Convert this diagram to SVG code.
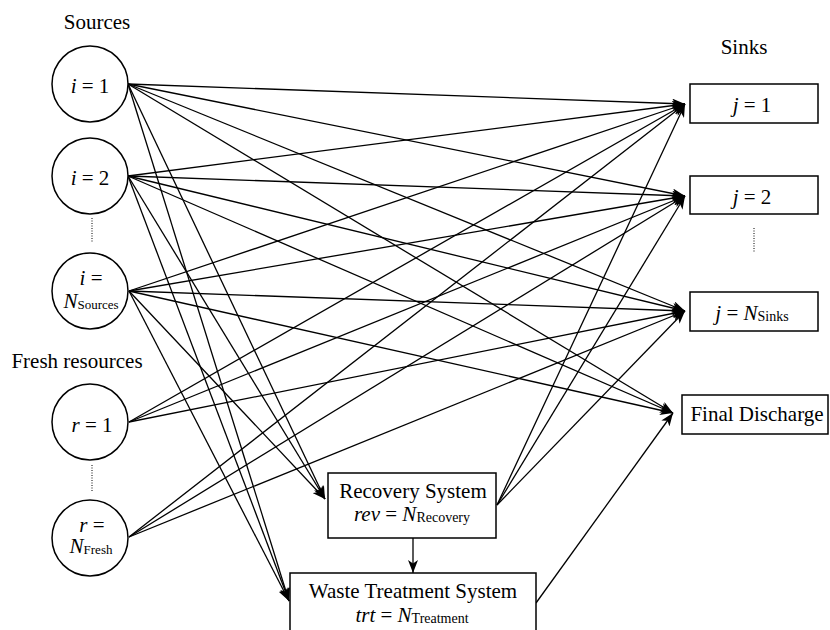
<svg xmlns="http://www.w3.org/2000/svg" width="830" height="630" viewBox="0 0 830 630" font-family="'Liberation Serif', 'Times New Roman', Times, serif">
<style>
  text { font-family: 'Liberation Serif', 'Times New Roman', Times, serif; fill: #000; }
  .lbl { font-size: 21px; }
  .sub { font-size: 13px; }
  .sub14 { font-size: 14px; }
  .it { font-style: italic; }
  .node { fill: #fff; stroke: #000; stroke-width: 1.5; }
  .dot { stroke: #000; stroke-width: 1; stroke-dasharray: 1 1.5; fill: none; }
  .edge { stroke: #000; stroke-width: 1.3; fill: none; marker-end: url(#arr); }
</style>
<defs>
  <marker id="arr" markerUnits="userSpaceOnUse" markerWidth="14" markerHeight="10" refX="13" refY="5" orient="auto">
    <path d="M0,0 L13,5 L0,10 L3.5,5 z" fill="#000"/>
  </marker>
</defs>
<rect width="830" height="630" fill="#fff"/>

<g id="headings">
  <text class="lbl" font-family="Liberation Serif" x="97" y="29" text-anchor="middle">Sources</text>
  <text class="lbl" font-family="Liberation Serif" x="77" y="368" text-anchor="middle">Fresh resources</text>
  <text class="lbl" font-family="Liberation Serif" x="744" y="54" text-anchor="middle">Sinks</text>
</g>

<g id="connectors">
  <line class="edge" x1="128" y1="84" x2="685" y2="104"/>
  <line class="edge" x1="128" y1="84" x2="685" y2="196"/>
  <line class="edge" x1="128" y1="84" x2="685" y2="311"/>
  <line class="edge" x1="128" y1="84" x2="673" y2="413"/>
  <line class="edge" x1="128" y1="84" x2="325" y2="499"/>
  <line class="edge" x1="128" y1="84" x2="289" y2="601"/>
  <line class="edge" x1="128" y1="176" x2="685" y2="104"/>
  <line class="edge" x1="128" y1="176" x2="685" y2="196"/>
  <line class="edge" x1="128" y1="176" x2="685" y2="311"/>
  <line class="edge" x1="128" y1="176" x2="673" y2="413"/>
  <line class="edge" x1="128" y1="176" x2="325" y2="499"/>
  <line class="edge" x1="128" y1="176" x2="289" y2="601"/>
  <line class="edge" x1="129" y1="291" x2="685" y2="104"/>
  <line class="edge" x1="129" y1="291" x2="685" y2="196"/>
  <line class="edge" x1="129" y1="291" x2="685" y2="311"/>
  <line class="edge" x1="129" y1="291" x2="673" y2="413"/>
  <line class="edge" x1="129" y1="291" x2="325" y2="499"/>
  <line class="edge" x1="129" y1="291" x2="289" y2="601"/>
  <line class="edge" x1="129" y1="422" x2="685" y2="104"/>
  <line class="edge" x1="129" y1="422" x2="685" y2="196"/>
  <line class="edge" x1="129" y1="422" x2="685" y2="311"/>
  <line class="edge" x1="129" y1="537" x2="685" y2="104"/>
  <line class="edge" x1="129" y1="537" x2="685" y2="196"/>
  <line class="edge" x1="129" y1="537" x2="685" y2="311"/>
  <line class="edge" x1="497" y1="505" x2="685" y2="104"/>
  <line class="edge" x1="497" y1="505" x2="685" y2="196"/>
  <line class="edge" x1="497" y1="505" x2="685" y2="311"/>
  <line class="edge" x1="413" y1="538" x2="413" y2="573"/>
  <line class="edge" x1="536" y1="603" x2="673" y2="413"/>
</g>

<g id="dots">
  <line class="dot" x1="92" y1="218" x2="92" y2="243"/>
  <line class="dot" x1="92" y1="465" x2="92" y2="491"/>
  <line class="dot" x1="754" y1="228" x2="754" y2="253"/>
</g>

<g id="src-i1">
  <circle class="node" cx="90" cy="84" r="38"/>
  <text class="lbl" font-family="Liberation Serif" x="90" y="93" text-anchor="middle"><tspan class="it">i</tspan> = 1</text>
</g>
<g id="src-i2">
  <circle class="node" cx="90" cy="176" r="38"/>
  <text class="lbl" font-family="Liberation Serif" x="90" y="185" text-anchor="middle"><tspan class="it">i</tspan> = 2</text>
</g>
<g id="src-iN">
  <circle class="node" cx="90" cy="291" r="38"/>
  <text class="lbl" font-family="Liberation Serif" x="91" y="285" text-anchor="middle"><tspan class="it">i</tspan> =</text>
  <text class="lbl" font-family="Liberation Serif" x="91" y="308" text-anchor="middle"><tspan class="it">N</tspan><tspan class="sub" dy="1">Sources</tspan></text>
</g>
<g id="fresh-r1">
  <circle class="node" cx="90" cy="422" r="38"/>
  <text class="lbl" font-family="Liberation Serif" x="92" y="432" text-anchor="middle"><tspan class="it">r</tspan> = 1</text>
</g>
<g id="fresh-rN">
  <circle class="node" cx="90" cy="538" r="38"/>
  <text class="lbl" font-family="Liberation Serif" x="92" y="532" text-anchor="middle"><tspan class="it">r</tspan> =</text>
  <text class="lbl" font-family="Liberation Serif" x="91" y="553" text-anchor="middle"><tspan class="it">N</tspan><tspan class="sub" dy="1">Fresh</tspan></text>
</g>

<g id="sink-j1">
  <rect class="node" x="690" y="84" width="128" height="39"/>
  <text class="lbl" font-family="Liberation Serif" x="752" y="112" text-anchor="middle"><tspan class="it">j</tspan> = 1</text>
</g>
<g id="sink-j2">
  <rect class="node" x="690" y="176" width="128" height="38"/>
  <text class="lbl" font-family="Liberation Serif" x="752" y="204" text-anchor="middle"><tspan class="it">j</tspan> = 2</text>
</g>
<g id="sink-jN">
  <rect class="node" x="690" y="292" width="128" height="39"/>
  <text class="lbl" font-family="Liberation Serif" x="752" y="320" text-anchor="middle"><tspan class="it">j</tspan> = <tspan class="it">N</tspan><tspan class="sub14" dy="1">Sinks</tspan></text>
</g>
<g id="final-discharge">
  <rect class="node" x="682" y="395" width="146" height="39"/>
  <text class="lbl" font-family="Liberation Serif" x="757" y="421" text-anchor="middle">Final Discharge</text>
</g>
<g id="recovery">
  <rect class="node" x="328" y="473" width="168" height="65"/>
  <text class="lbl" font-family="Liberation Serif" x="413" y="498" text-anchor="middle">Recovery System</text>
  <text class="lbl" font-family="Liberation Serif" x="412" y="521" text-anchor="middle"><tspan class="it">rev</tspan> = <tspan class="it">N</tspan><tspan class="sub14" dy="1">Recovery</tspan></text>
</g>
<g id="waste-treatment">
  <rect class="node" x="290" y="573" width="246" height="70"/>
  <text class="lbl" font-family="Liberation Serif" x="413" y="598" text-anchor="middle">Waste Treatment System</text>
  <text class="lbl" font-family="Liberation Serif" x="412" y="622" text-anchor="middle"><tspan class="it">trt</tspan> = <tspan class="it">N</tspan><tspan class="sub14" dy="1">Treatment</tspan></text>
</g>
</svg>
